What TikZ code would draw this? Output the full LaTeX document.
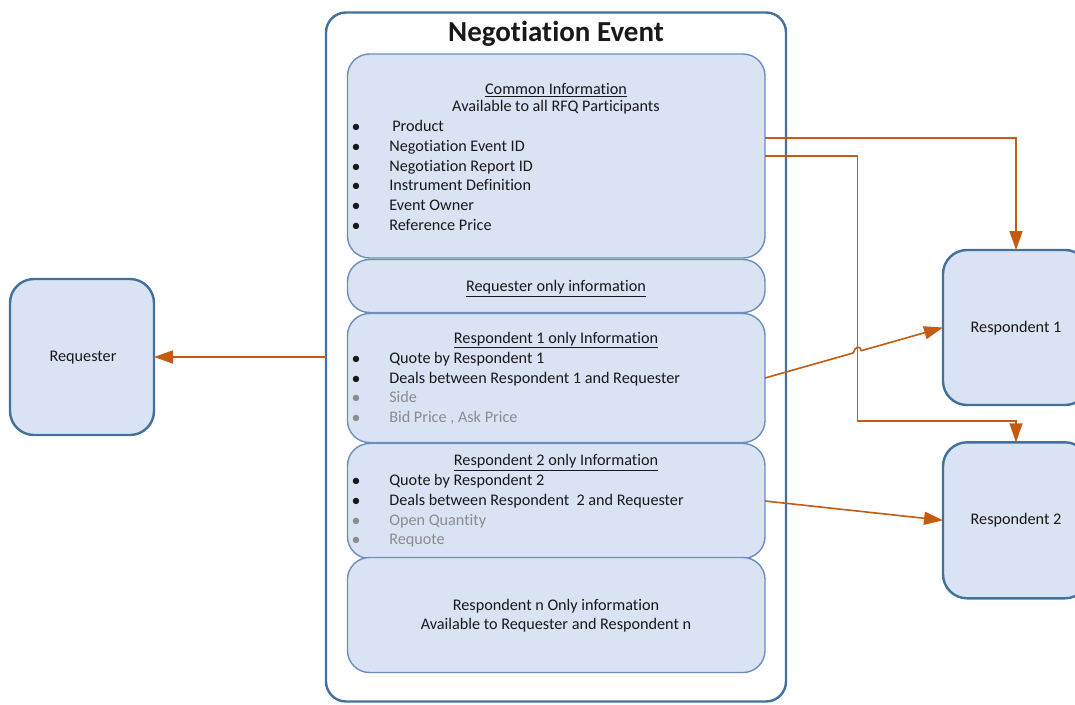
\documentclass[tikz,border=0pt]{standalone}
\usepackage{fontspec}
\setmainfont{Carlito}[Ligatures={NoCommon}]
\usetikzlibrary{arrows.meta,calc}
\definecolor{boxfill}{RGB}{218,227,243}
\definecolor{outerline}{RGB}{65,113,156}
\definecolor{innerline}{RGB}{108,142,191}
\definecolor{arrowc}{RGB}{197,90,17}
\definecolor{graytext}{RGB}{140,140,140}
\definecolor{bodytext}{RGB}{25,25,25}
\begin{document}
\begin{tikzpicture}[x=1pt,y=-1pt,
  every node/.style={inner sep=0pt,outer sep=0pt},
  outerbox/.style={draw=outerline,line width=2.4pt,rounded corners=20pt,anchor=north west},
  infobox/.style={draw=innerline,fill=boxfill,line width=1.4pt,rounded corners=22pt,anchor=north west},
  actorbox/.style={draw=outerline,fill=boxfill,line width=2.4pt,rounded corners=24pt,anchor=north west},
  txt/.style={font=\fontsize{16.2}{19}\selectfont,text=bodytext},
  item/.style={txt,anchor=base west},
  gitem/.style={item,text=graytext},
  bul/.style={font=\fontsize{18}{18}\selectfont,text=bodytext,anchor=base},
  gbul/.style={bul,text=graytext},
  ctr/.style={txt,anchor=base},
  arr/.style={draw=arrowc,line width=1.6pt,-{Triangle[length=19pt,width=13pt]}}
]
\clip (0,0) rectangle (1075,704);
\fill[white] (0,0) rectangle (1075,704);

% outer container
\node[outerbox,minimum width=460pt,minimum height=689pt] (outer) at (326,12.5) {};
\node[txt,anchor=base,font=\fontsize{29}{34}\selectfont\bfseries] (title) at (556,41) {Negotiation Event};

% inner information boxes
\node[infobox,minimum width=417.5pt,minimum height=204pt] (common) at (347.5,54) {};
\node[infobox,minimum width=417.5pt,minimum height=53pt] (reqinfo) at (347.5,259.5) {};
\node[infobox,minimum width=417.5pt,minimum height=129pt] (resp1info) at (347.5,313.5) {};
\node[infobox,minimum width=417.5pt,minimum height=115pt] (resp2info) at (347.5,443.5) {};
\node[infobox,minimum width=417.5pt,minimum height=115pt] (respninfo) at (347.5,557.5) {};

% actors
\node[actorbox,minimum width=144pt,minimum height=156pt] (requester) at (10,279) {};
\node[txt,anchor=base] (requesterlbl) at (83,361.2) {Requester};
\node[actorbox,minimum width=146pt,minimum height=155pt] (r1) at (943,250) {};
\node[txt,anchor=base] (r1lbl) at (1016,332.3) {Respondent 1};
\node[actorbox,minimum width=146pt,minimum height=156pt] (r2) at (943,442.3) {};
\node[txt,anchor=base] (r2lbl) at (1016,524.3) {Respondent 2};

% common information text
\node[ctr] (c1) at (556,94.3) {\underline{Common Information}};
\node[ctr] (c2) at (556,111.7) {Available to all RFQ Participants};
\node[bul] (cb1) at (356,132.5) {•};
\node[item] (ci1) at (392.3,131.5) {Product};
\node[bul] (cb2) at (356,152) {•};
\node[item] (ci2) at (389.3,151) {Negotiation Event ID};
\node[bul] (cb3) at (356,172) {•};
\node[item] (ci3) at (389.3,171) {Negotiation Report ID};
\node[bul] (cb4) at (356,191.5) {•};
\node[item] (ci4) at (389.3,190.5) {Instrument Definition};
\node[bul] (cb5) at (356,211) {•};
\node[item] (ci5) at (389.3,210) {Event Owner};
\node[bul] (cb6) at (356,231) {•};
\node[item] (ci6) at (389.3,230) {Reference Price};

% requester only
\node[ctr] (rq1) at (556,291.7) {\underline{Requester only information}};

% respondent 1 only
\node[ctr] (ra0) at (556,343.3) {\underline{Respondent 1 only Information}};
\node[bul] (rab1) at (356,364.3) {•};
\node[item] (rai1) at (389.3,363.3) {Quote by Respondent 1};
\node[bul] (rab2) at (356,384.3) {•};
\node[item] (rai2) at (389.3,383.3) {Deals between Respondent 1 and Requester};
\node[gbul] (rab3) at (356,403.7) {•};
\node[gitem] (rai3) at (389.3,402.7) {Side};
\node[gbul] (rab4) at (356,423.7) {•};
\node[gitem] (rai4) at (389.3,422.7) {Bid Price , Ask Price};

% respondent 2 only
\node[ctr] (rb0) at (556,465.7) {\underline{Respondent 2 only Information}};
\node[bul] (rbb1) at (356,486) {•};
\node[item] (rbi1) at (389.3,485) {Quote by Respondent 2};
\node[bul] (rbb2) at (356,506) {•};
\node[item] (rbi2) at (389.3,505) {Deals between Respondent \ 2 and Requester};
\node[gbul] (rbb3) at (356,526) {•};
\node[gitem] (rbi3) at (389.3,525) {Open Quantity};
\node[gbul] (rbb4) at (356,545.3) {•};
\node[gitem] (rbi4) at (389.3,544.3) {Requote};

% respondent n only
\node[ctr] (rn1) at (556,610) {Respondent n Only information};
\node[ctr] (rn2) at (556,629.3) {Available to Requester and Respondent n};

% connectors
\coordinate (bend2) at (857.3,420.7);
\draw[arr] ([yshift=18.3pt]common.east) -| (r1.north);
\draw[arr] (common.east) -| (bend2) -| (r2.north);
\draw[arr] (resp1info.east) -- ($(resp1info.east)!0.496!(r1.west)$)
  .. controls +(1,-6) and +(-1,-6) .. ($(resp1info.east)!0.541!(r1.west)$) -- (r1.west);
\draw[arr] (resp2info.east) -- (r2.west);
\draw[arr] (outer.west) -- (requester.east);
\end{tikzpicture}
\end{document}
